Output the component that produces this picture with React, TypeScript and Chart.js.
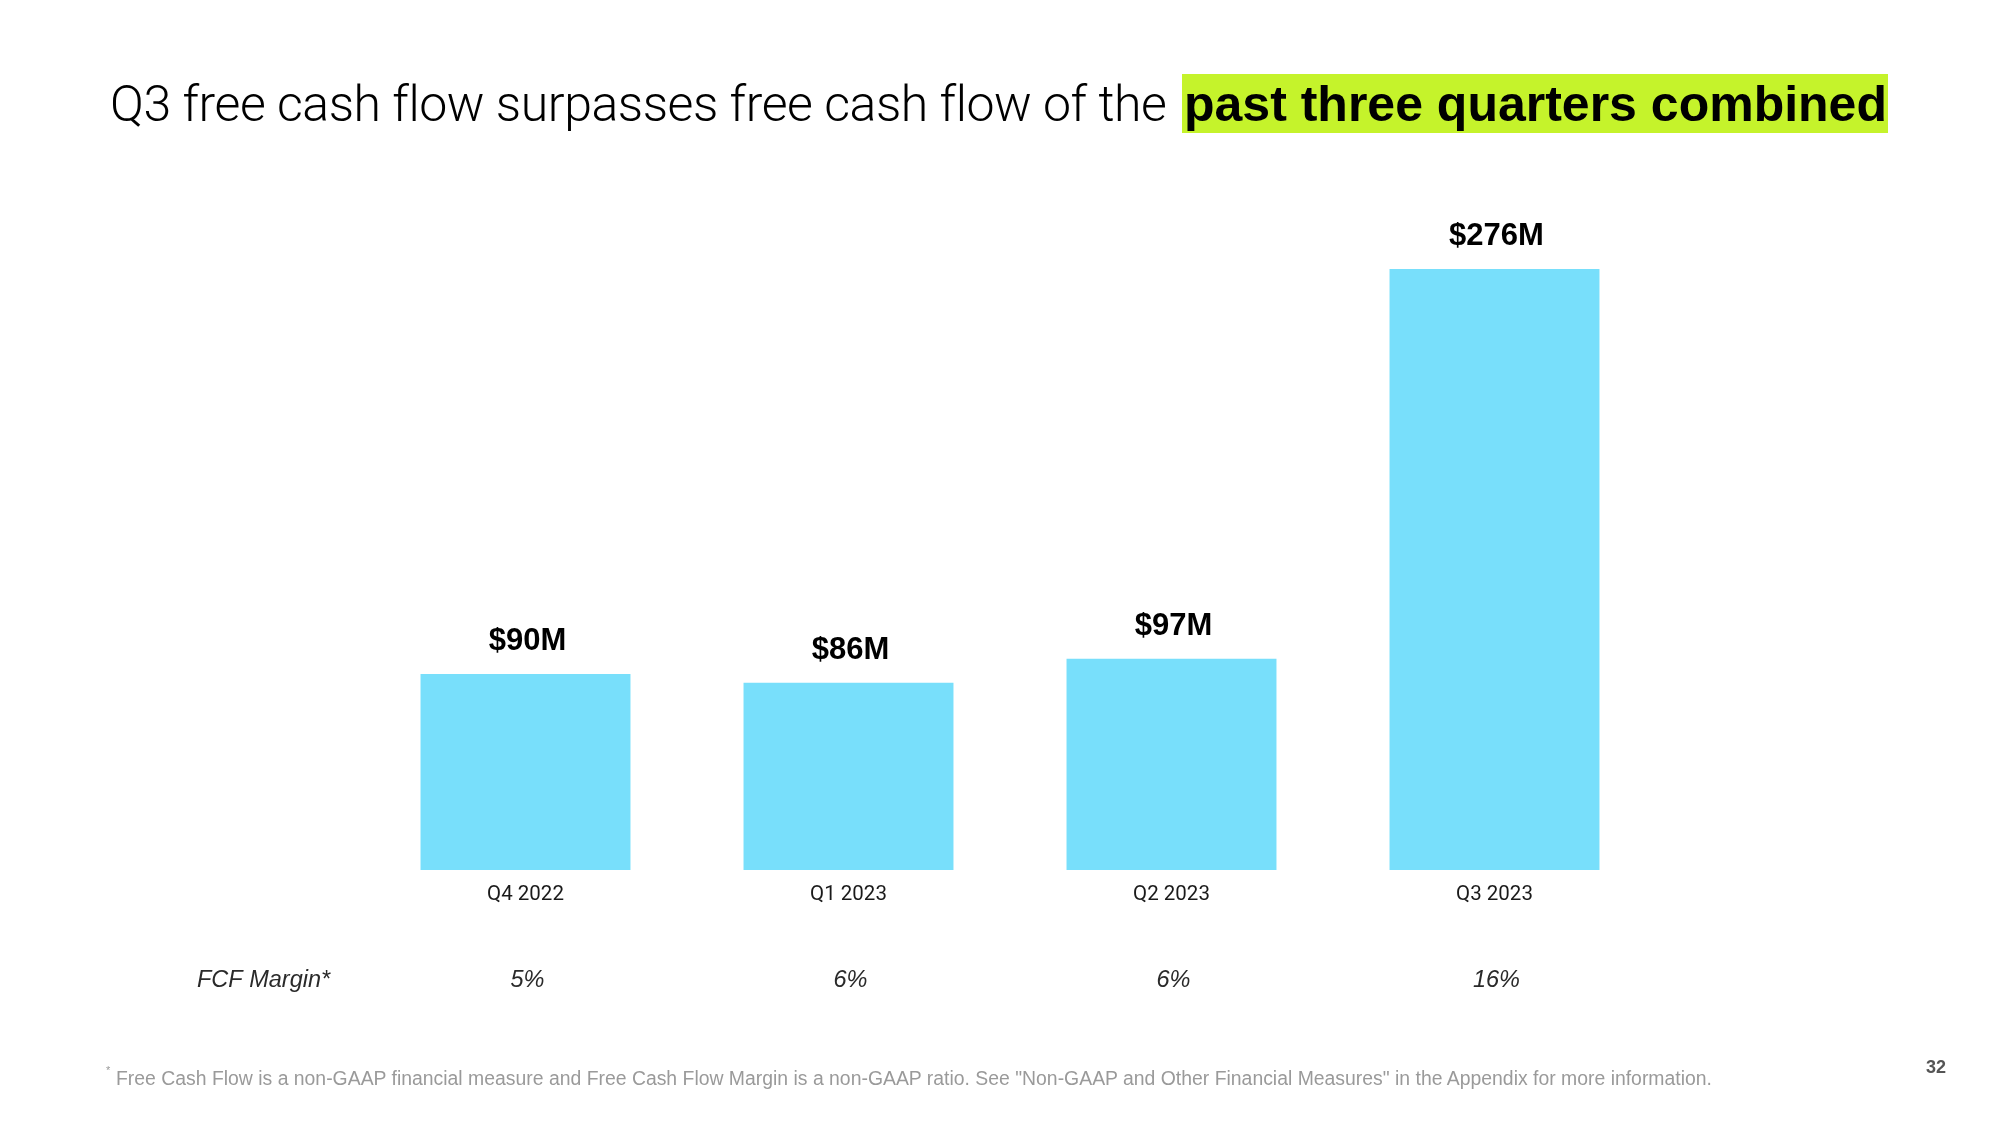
import React, { useEffect, useRef } from "react";
import { Chart, registerables } from "chart.js";

Chart.register(...registerables);

const categories: string[] = ["Q4 2022", "Q1 2023", "Q2 2023", "Q3 2023"];
const fcfValues: number[] = [90, 86, 97, 276];
const valueLabels: string[] = ["$90M", "$86M", "$97M", "$276M"];
const marginLabels: string[] = ["5%", "6%", "6%", "16%"];
const marginRowLabel = "FCF Margin*";

const titleRegular = "Q3 free cash flow surpasses free cash flow of the ";
const titleHighlight = "past three quarters combined";
const footnote =
  'Free Cash Flow is a non-GAAP financial measure and Free Cash Flow Margin is a non-GAAP ratio. See "Non-GAAP and Other Financial Measures" in the Appendix for more information.';
const pageNumber = "32";

const BAR_COLOR = "#78dffb";
const HIGHLIGHT = "#c5f32b";

const labelPlugin = {
  id: "slideLabels",
  afterDatasetsDraw(chart: any) {
    const ctx: CanvasRenderingContext2D = chart.ctx;
    const meta = chart.getDatasetMeta(0);
    const bottom = chart.chartArea.bottom;
    ctx.save();
    meta.data.forEach((bar: any, i: number) => {
      const x = bar.x;
      // value label
      ctx.fillStyle = "#000";
      ctx.textAlign = "center";
      ctx.textBaseline = "alphabetic";
      ctx.font = "bold 31px 'Liberation Sans', Arial, sans-serif";
      ctx.fillText(valueLabels[i], x + 2, bar.y - 24);
      // category label
      ctx.fillStyle = "#1a1a1a";
      ctx.font = "20.5px Roboto, sans-serif";
      ctx.fillText(categories[i], x, bottom + 30);
      // margin
      ctx.fillStyle = "#2a2a2a";
      ctx.font = "italic 23.5px 'Liberation Sans', Arial, sans-serif";
      ctx.fillText(marginLabels[i], x + 2, bottom + 117);
    });
    ctx.textAlign = "left";
    ctx.fillStyle = "#2a2a2a";
    ctx.font = "italic 23.5px 'Liberation Sans', Arial, sans-serif";
    ctx.fillText(marginRowLabel, 197, bottom + 117);
    ctx.restore();
  },
};

export default function App() {
  const canvasRef = useRef<HTMLCanvasElement | null>(null);

  useEffect(() => {
    if (!canvasRef.current) return;
    const chart = new Chart(canvasRef.current, {
      type: "bar",
      data: {
        labels: categories,
        datasets: [
          {
            data: fcfValues,
            backgroundColor: BAR_COLOR,
            borderWidth: 0,
            categoryPercentage: 1,
            barPercentage: 0.65,
          },
        ],
      },
      options: {
        animation: false,
        responsive: false,
        devicePixelRatio: 1,
        layout: { padding: { left: 364, right: 344, top: 269, bottom: 255 } },
        plugins: {
          legend: { display: false },
          tooltip: { enabled: false },
          title: { display: false },
        },
        scales: {
          x: { display: false },
          y: { display: false, min: 0, max: 276 },
        },
      },
      plugins: [labelPlugin],
    });
    return () => chart.destroy();
  }, []);

  return (
    <div
      style={{
        position: "absolute",
        left: 0,
        top: 0,
        width: 2000,
        height: 1125,
        background: "#fff",
        overflow: "hidden",
        fontFamily: "'Liberation Sans', Arial, sans-serif",
      }}
    >
      <canvas
        ref={canvasRef}
        width={2000}
        height={1125}
        style={{ position: "absolute", left: 0, top: 0, width: 2000, height: 1125 }}
      />
      <div
        style={{
          position: "absolute",
          left: 110,
          top: 75,
          fontFamily: "Roboto, sans-serif",
          fontWeight: 300,
          fontSize: 50,
          lineHeight: "59px",
          letterSpacing: "-0.45px",
          color: "#000",
          whiteSpace: "pre",
        }}
      >
        {titleRegular}
      </div>
      <div
        style={{
          position: "absolute",
          left: 1182,
          top: 74,
          width: 706,
          height: 59,
          background: HIGHLIGHT,
        }}
      >
        <div
          style={{
            position: "absolute",
            left: 2,
            top: 1,
            fontWeight: "bold",
            fontSize: 50,
            lineHeight: "59px",
            color: "#000",
            whiteSpace: "pre",
          }}
        >
          {titleHighlight}
        </div>
      </div>
      <span
        style={{
          position: "absolute",
          left: 106,
          top: 1064,
          fontSize: 11,
          color: "#999",
        }}
      >
        *
      </span>
      <div
        style={{
          position: "absolute",
          left: 116,
          top: 1066,
          fontSize: 19.4,
          lineHeight: "24px",
          color: "#9a9a9a",
          whiteSpace: "pre",
        }}
      >
        {footnote}
      </div>
      <div
        style={{
          position: "absolute",
          left: 1926,
          top: 1057,
          fontSize: 18,
          fontWeight: "bold",
          lineHeight: "20px",
          color: "#555",
        }}
      >
        {pageNumber}
      </div>
    </div>
  );
}
